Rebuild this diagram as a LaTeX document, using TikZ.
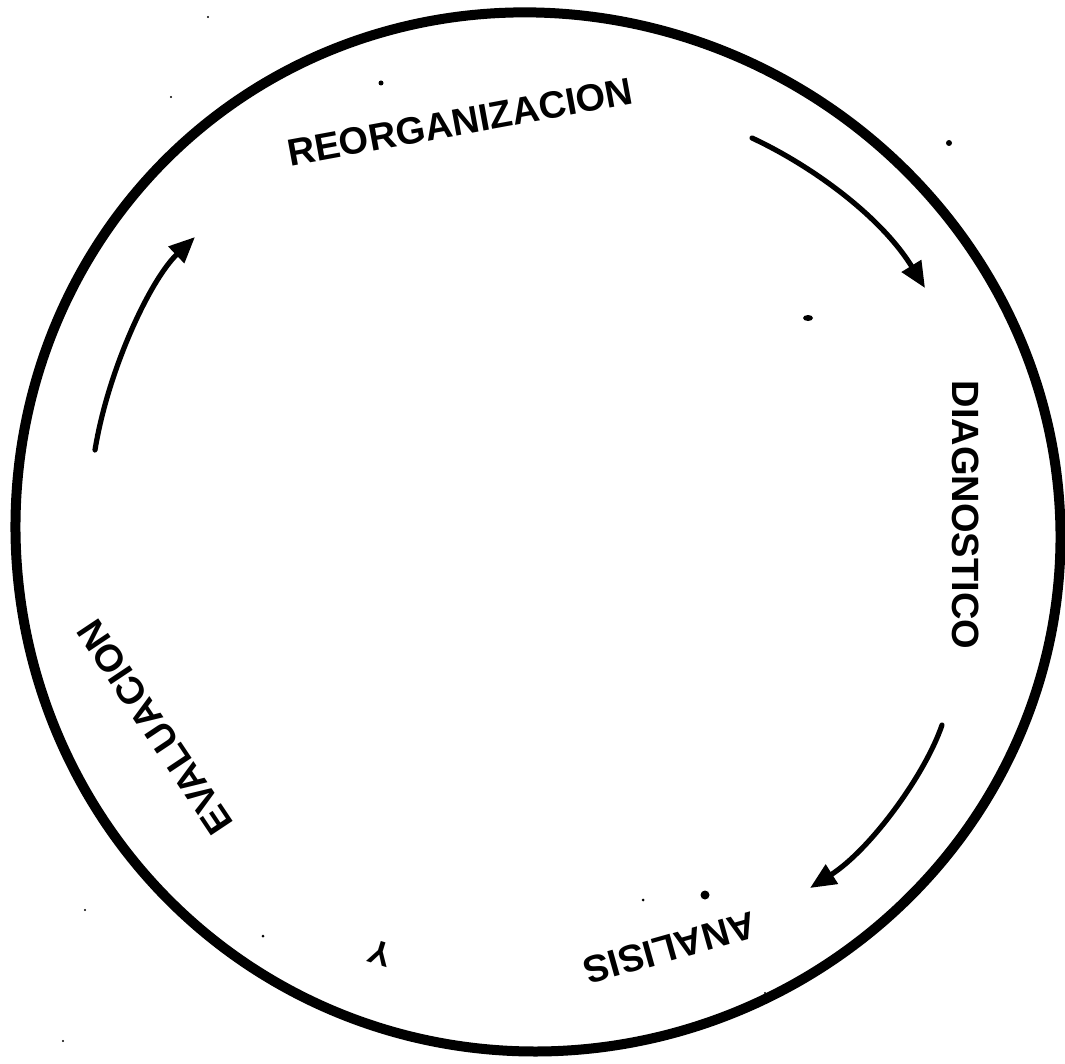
\documentclass[tikz,border=0pt]{standalone}
\usepackage{fontspec}
\setmainfont{Liberation Sans}
\usetikzlibrary{arrows.meta}
\begin{document}
\begin{tikzpicture}[x=0.5pt,y=-0.5pt,
  lbl/.style={font=\fontsize{19}{19}\selectfont\bfseries, inner sep=0pt},
  ring/.style={line width=5pt},
  arr/.style={line width=2.6pt, line cap=round, -{Triangle[length=13pt,width=11pt]}},
  speck/.style={fill=black}]
\useasboundingbox (0,0) rectangle (1065,1064);
% hand-drawn circle (slightly irregular)
\draw[ring] plot[smooth cycle, tension=0.6, domain=0:355, samples=72]
  ({536+(521+3*sin(2*\x+30)+2*cos(3*\x))*cos(\x)}, {532+(521+3*sin(2*\x+30)+2*cos(3*\x))*sin(\x)});
% labels
\node[lbl, rotate=10.4] (reorg) at (460,122) {REORGANIZACION};
\node[lbl, rotate=-90] (diag) at (966,515) {DIAGNOSTICO};
\node[lbl, rotate=195.8] (anal) at (670,948) {ANALISIS};
\node[lbl, font=\fontsize{17}{17}\selectfont\bfseries, rotate=163] (y) at (380,953) {Y};
\node[lbl, rotate=123.7] (eval) at (155,727) {EVALUACION};
% arrows
\coordinate (a1s) at (95,450);   \coordinate (a1e) at (195,237);
\coordinate (a2s) at (752,138);  \coordinate (a2e) at (925,288);
\coordinate (a3s) at (942,725);  \coordinate (a3e) at (810,888);
\draw[arr] (a1s) .. controls (108,370) and (150,280) .. (a1e);
\draw[arr] (a2s) .. controls (810,165) and (880,215) .. (a2e);
\draw[arr] (a3s) .. controls (925,775) and (870,850) .. (a3e);
% specks from the original
\fill[speck] (381,83) circle (2.5);
\fill[speck] (949,143) circle (3);
\fill[speck] (808,318) ellipse (5 and 3);
\fill[speck] (705,895) circle (4.5);
\fill[speck] (643,900) circle (1.5);
\fill[speck] (208,17) circle (1.2);
\fill[speck] (171,97) circle (1.2);
\fill[speck] (85,910) circle (1.2);
\fill[speck] (263,936) circle (1.5);
\fill[speck] (63,1041) circle (1.2);
\fill[speck] (765,993) circle (1.2);
\end{tikzpicture}
\end{document}
